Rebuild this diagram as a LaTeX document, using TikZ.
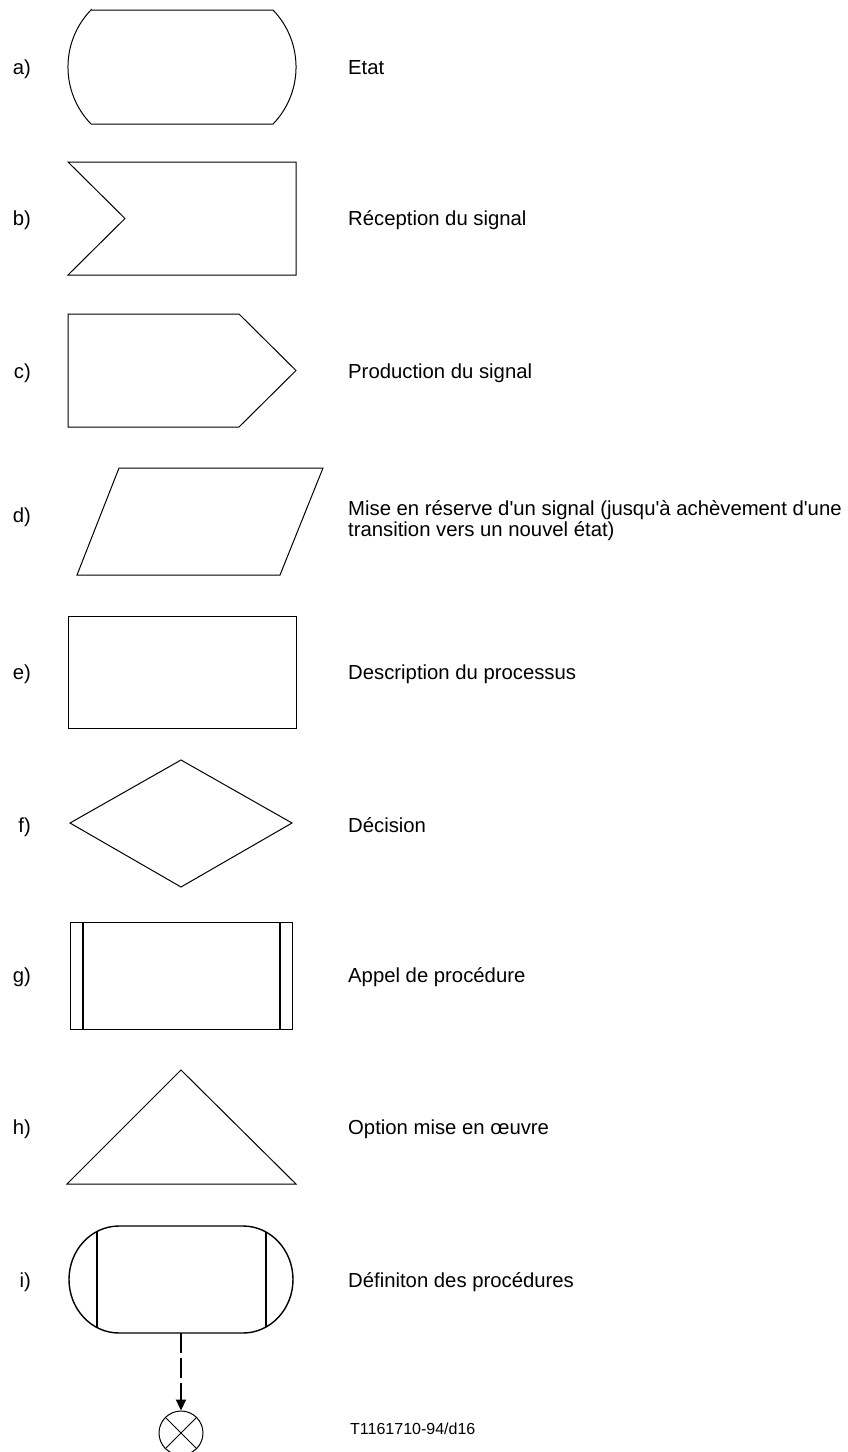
\documentclass[tikz,border=0pt]{standalone}
\usepackage{fontspec}
\setmainfont{Liberation Sans}
\usetikzlibrary{arrows.meta}

\begin{document}
\begin{tikzpicture}[
  x=1pt, y=1pt,
  outline/.style={line width=1pt, line join=miter},
  heavy/.style={line width=2pt},
  tag/.style={anchor=base east, inner sep=0pt, font=\fontsize{20.3}{20}\selectfont},
  caption/.style={anchor=base west, inner sep=0pt, align=left, font=\fontsize{20.3}{15.5}\selectfont},
  ref/.style={anchor=base west, inner sep=0pt, font=\fontsize{16}{16}\selectfont},
  link/.style={line width=2pt, dash pattern=on 20pt off 5pt, -{Triangle[length=11pt,width=10pt]}}
]
\useasboundingbox (0,0) rectangle (847,-1452);

% a) state
\draw[outline] (91,-10) -- (273,-10) arc[start angle=44, end angle=-44, radius=82.1pt]
  -- (91,-124) arc[start angle=224, end angle=136, radius=82.1pt] -- cycle;
% b) signal reception
\draw[outline] (68,-162) -- (296,-162) -- (296,-275) -- (68,-275) -- (125,-218.5) -- cycle;
% c) signal output
\draw[outline] (68,-314) -- (239,-314) -- (296,-370.5) -- (239,-427) -- (68,-427) -- cycle;
% d) save
\draw[outline] (119,-468) -- (323,-468) -- (280,-575) -- (77,-575) -- cycle;
% e) task
\draw[outline] (68,-616) rectangle (296,-728);
% f) decision
\draw[outline] (70,-823) -- (181,-760) -- (292,-823) -- (181,-887) -- cycle;
% g) procedure call
\draw[outline] (70,-922) rectangle (292,-1029);
\draw[heavy] (83,-922) -- (83,-1029);
\draw[heavy] (280,-922) -- (280,-1029);
% h) option
\draw[outline] (67,-1184) -- (181,-1070) -- (296,-1184) -- cycle;
% i) procedure definition
\draw[line width=1.4pt] (119,-1226) -- (243,-1226)
  arc[start angle=90, end angle=-90, x radius=50pt, y radius=53.5pt]
  -- (119,-1333)
  arc[start angle=270, end angle=90, x radius=50pt, y radius=53.5pt] -- cycle;
\draw[heavy] (97,-1231.5) -- (97,-1327.5);
\draw[heavy] (266,-1231.8) -- (266,-1327.2);
\coordinate (procbottom) at (181,-1333);

% connector
\node[circle, draw, line width=1pt, minimum size=44pt, inner sep=0pt] (conn) at (181,-1433) {};
\draw[line width=0.8pt] (conn.north west) -- (conn.south east);
\draw[line width=0.8pt] (conn.north east) -- (conn.south west);
\draw[link] (procbottom) -- (conn.north);

% item letters
\node[tag] (ta) at (31,-74) {a)};
\node[tag] (tb) at (31,-225) {b)};
\node[tag] (tc) at (31,-378) {c)};
\node[tag] (td) at (31,-522) {d)};
\node[tag] (te) at (31,-679) {e)};
\node[tag] (tf) at (31,-832) {f)};
\node[tag] (tg) at (31,-982) {g)};
\node[tag] (th) at (31,-1134) {h)};
\node[tag] (ti) at (31,-1287) {i)};

% descriptions (multi-line node sits on its last baseline)
\node[caption] (ca) at (348,-74) {Etat};
\node[caption] (cb) at (348,-225) {Réception du signal};
\node[caption] (cc) at (348,-378) {Production du signal};
\node[caption] (cd) at (348,-536) {Mise en réserve d\textquotesingle un signal (jusqu\textquotesingle à achèvement d\textquotesingle une\\transition vers un nouvel état)};
\node[caption] (ce) at (348,-679) {Description du processus};
\node[caption] (cf) at (348,-832) {Décision};
\node[caption] (cg) at (348,-982) {Appel de procédure};
\node[caption] (ch) at (348,-1134) {Option mise en œuvre};
\node[caption] (ci) at (348,-1287) {Définiton des procédures};
\node[ref] (fig) at (350,-1434) {T1161710-94/d16};
\end{tikzpicture}
\end{document}
